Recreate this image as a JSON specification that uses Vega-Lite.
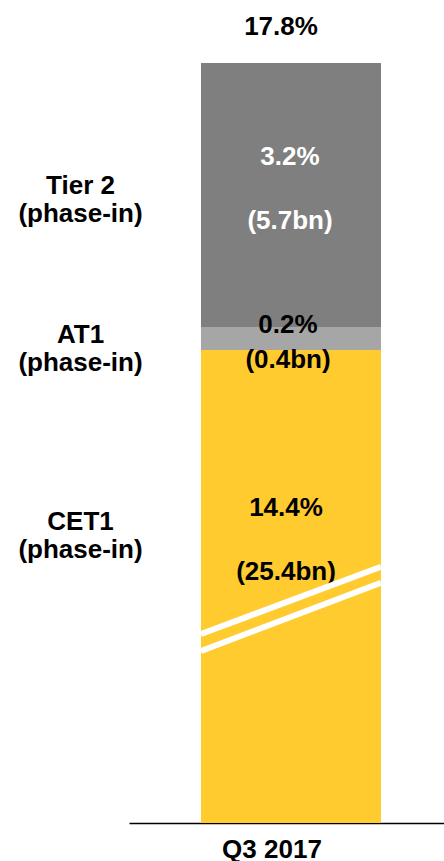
{
  "$schema": "https://vega.github.io/schema/vega-lite/v6.json",
  "width": 315,
  "height": 823,
  "autosize": {"type": "none"},
  "padding": {"left": 129, "right": 0, "top": 0, "bottom": 38},
  "background": "white",
  "config": {"view": {"stroke": null}, "font": "Liberation Sans"},
  "layer": [
    {
      "data": {"values": [
        {"period": "Q3 2017", "component": "CET1", "pct": 14.4, "bn": 25.4, "order": 1},
        {"period": "Q3 2017", "component": "AT1", "pct": 0.2, "bn": 0.4, "order": 2},
        {"period": "Q3 2017", "component": "Tier 2", "pct": 3.2, "bn": 5.7, "order": 3}
      ]},
      "transform": [
        {"stack": "pct", "groupby": ["period"], "sort": [{"field": "order", "order": "ascending"}], "as": ["y0", "y1"]},
        {"calculate": "(datum.y0 + datum.y1) / 2", "as": "mid"},
        {"calculate": "[format(datum.pct, '.1f') + '%', '(' + format(datum.bn, '.1f') + 'bn)']", "as": "valueText"}
      ],
      "layer": [
        {
          "mark": {"type": "bar", "stroke": null},
          "encoding": {
            "x": {
              "field": "period", "type": "nominal", "title": null,
              "scale": {"paddingOuter": 0.375, "paddingInner": 0, "align": 0.5333},
              "axis": {
                "title": null, "domain": true, "domainColor": "black", "domainWidth": 1.3,
                "ticks": false, "tickSize": 0, "labelPadding": 13, "labelAngle": 0,
                "labelFont": "Liberation Sans", "labelFontWeight": "bold", "labelFontSize": 26,
                "labelColor": "black", "labelOffset": -19
              }
            },
            "y": {
              "field": "y0", "type": "quantitative", "title": null,
              "scale": {
                "domain": [0, 7.2, 14.4, 14.5, 14.6, 16.2, 17.8],
                "range": [823, 521, 350, 334, 327, 185, 63],
                "nice": false, "zero": false
              },
              "axis": {
                "title": null,
                "values": [7.2, 14.5, 16.2],
                "labelExpr": "datum.value == 16.2 ? ['Tier 2', '(phase-in)'] : datum.value == 14.5 ? ['AT1', '(phase-in)'] : ['CET1', '(phase-in)']",
                "domain": false, "ticks": false, "tickSize": 0, "grid": false,
                "labelPadding": 49, "labelAlign": "center", "labelBaseline": "middle",
                "labelFont": "Liberation Sans", "labelFontWeight": "bold", "labelFontSize": 26,
                "labelLineHeight": 28, "labelColor": "black", "labelOverlap": false, "labelBound": false
              }
            },
            "y2": {"field": "y1"},
            "color": {
              "field": "component", "type": "nominal",
              "scale": {"domain": ["CET1", "AT1", "Tier 2"], "range": ["#FFCB2F", "#A6A6A6", "#7F7F7F"]},
              "legend": null
            }
          }
        },
        {
          "transform": [{"filter": "datum.component == 'Tier 2'"}],
          "mark": {"type": "text", "font": "Liberation Sans", "fontWeight": "bold", "fontSize": 26, "color": "white", "lineHeight": 64, "dy": -28, "dx": -1, "align": "center", "baseline": "middle"},
          "encoding": {
            "x": {"field": "period", "type": "nominal", "title": null},
            "y": {"field": "mid", "type": "quantitative", "title": null},
            "text": {"field": "valueText"}
          }
        },
        {
          "transform": [{"filter": "datum.component == 'CET1'"}],
          "mark": {"type": "text", "font": "Liberation Sans", "fontWeight": "bold", "fontSize": 26, "color": "black", "lineHeight": 64, "dy": -13, "dx": -5, "align": "center", "baseline": "middle"},
          "encoding": {
            "x": {"field": "period", "type": "nominal", "title": null},
            "y": {"field": "mid", "type": "quantitative", "title": null},
            "text": {"field": "valueText"}
          }
        },
        {
          "transform": [{"filter": "datum.component == 'AT1'"}],
          "mark": {"type": "text", "font": "Liberation Sans", "fontWeight": "bold", "fontSize": 26, "color": "black", "lineHeight": 35, "dy": -9, "dx": -3, "align": "center", "baseline": "middle"},
          "encoding": {
            "x": {"field": "period", "type": "nominal", "title": null},
            "y": {"field": "mid", "type": "quantitative", "title": null},
            "text": {"field": "valueText"}
          }
        },
        {
          "transform": [
            {"aggregate": [{"op": "sum", "field": "pct", "as": "total"}], "groupby": ["period"]},
            {"calculate": "format(datum.total, '.1f') + '%'", "as": "totalText"}
          ],
          "mark": {"type": "text", "font": "Liberation Sans", "fontWeight": "bold", "fontSize": 26, "color": "black", "dy": -36, "dx": -10, "align": "center", "baseline": "middle"},
          "encoding": {
            "x": {"field": "period", "type": "nominal", "title": null},
            "y": {"field": "total", "type": "quantitative", "title": null},
            "text": {"field": "totalText"}
          }
        }
      ]
    },
    {
      "data": {"values": [
        {"xa": 0, "xb": 1, "ya": 4.506, "yb": 6.110},
        {"xa": 0, "xb": 1, "ya": 4.101, "yb": 5.729}
      ]},
      "mark": {"type": "rule", "color": "white", "strokeWidth": 6, "strokeCap": "butt"},
      "encoding": {
        "x": {"field": "xa", "type": "quantitative", "title": null, "scale": {"domain": [0, 1], "range": [72, 252]}, "axis": null},
        "x2": {"field": "xb"},
        "y": {"field": "ya", "type": "quantitative", "title": null},
        "y2": {"field": "yb"}
      }
    }
  ],
  "resolve": {"scale": {"x": "independent"}, "axis": {"x": "independent"}}
}
